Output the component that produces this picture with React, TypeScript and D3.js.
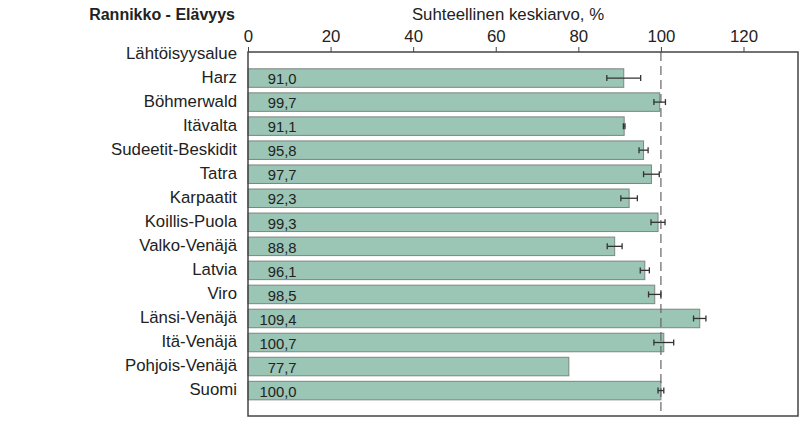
import React, { useRef, useEffect } from "react";
import * as d3 from "d3";

const regions = ["Harz", "Böhmerwald", "Itävalta", "Sudeetit-Beskidit", "Tatra", "Karpaatit", "Koillis-Puola", "Valko-Venäjä", "Latvia", "Viro", "Länsi-Venäjä", "Itä-Venäjä", "Pohjois-Venäjä", "Suomi"];
const values = [91.0, 99.7, 91.1, 95.8, 97.7, 92.3, 99.3, 88.8, 96.1, 98.5, 109.4, 100.7, 77.7, 100.0];
const errors = [4.1, 1.4, 0.2, 1.1, 1.9, 2.0, 1.7, 1.8, 1.1, 1.5, 1.5, 2.4, 0, 0.7];
const ticks = [0, 20, 40, 60, 80, 100, 120];

export default () => {
    const ref = useRef<SVGSVGElement>(null);

    useEffect(() => {
        if (!ref.current) return;
        const width = 809, height = 428;
        const margin = { top: 52, right: 11, bottom: 12, left: 248 };
        const svg = d3.select(ref.current);
        svg.selectAll("*").remove();

        const x = d3.scaleLinear().domain([0, 133.2]).range([margin.left, width - margin.right]);
        const y = d3.scaleBand<string>()
            .domain(["Lähtöisyysalue", ...regions])
            .range([42, 42 + 15 * 24.04])
            .paddingInner(0.23)
            .paddingOuter(0.115);

        const font = "Liberation Sans, Arial, sans-serif";
        const data = regions.map((r, i) => ({ r, v: values[i], e: errors[i] }));

        // bars
        svg.append("g")
            .selectAll("rect")
            .data(data)
            .join("rect")
            .attr("x", x(0))
            .attr("y", d => y(d.r)!)
            .attr("width", d => x(d.v) - x(0))
            .attr("height", y.bandwidth())
            .attr("fill", "#9bc5b5")
            .attr("stroke", "#7d8580")
            .attr("stroke-width", 1);

        // reference line at 100
        svg.append("line")
            .attr("x1", x(100)).attr("x2", x(100))
            .attr("y1", margin.top).attr("y2", height - margin.bottom)
            .attr("stroke", "#666").attr("stroke-width", 1.2)
            .attr("stroke-dasharray", "9,5");

        // error bars
        const eb = svg.append("g").attr("stroke", "#333").attr("stroke-width", 1.3);
        data.filter(d => d.e > 0).forEach(d => {
            const cy = y(d.r)! + y.bandwidth() / 2;
            eb.append("line").attr("x1", x(d.v - d.e)).attr("x2", x(d.v + d.e)).attr("y1", cy).attr("y2", cy);
            eb.append("line").attr("x1", x(d.v - d.e)).attr("x2", x(d.v - d.e)).attr("y1", cy - 3).attr("y2", cy + 3);
            eb.append("line").attr("x1", x(d.v + d.e)).attr("x2", x(d.v + d.e)).attr("y1", cy - 3).attr("y2", cy + 3);
        });

        // value labels
        svg.append("g")
            .attr("font-family", font)
            .attr("font-size", 14.8)
            .attr("fill", "#222")
            .attr("text-anchor", "end")
            .selectAll("text")
            .data(data)
            .join("text")
            .attr("x", 296.5)
            .attr("y", d => y(d.r)! + y.bandwidth() / 2)
            .attr("dy", "0.42em")
            .text(d => d3.format(".1f")(d.v).replace(".", ","));

        // frame
        svg.append("rect")
            .attr("x", margin.left).attr("y", margin.top)
            .attr("width", width - margin.right - margin.left)
            .attr("height", height - margin.bottom - margin.top)
            .attr("fill", "none").attr("stroke", "#444").attr("stroke-width", 1.5);

        // top axis
        const axis = svg.append("g")
            .attr("transform", `translate(0,${margin.top})`)
            .call(d3.axisTop(x).tickValues(ticks).tickSize(5).tickSizeOuter(0).tickPadding(5));
        axis.select(".domain").remove();
        axis.selectAll("line").attr("stroke", "#444");
        axis.selectAll("text").attr("font-family", font).attr("font-size", 16.8).attr("fill", "#222");

        // category labels
        svg.append("g")
            .attr("font-family", font)
            .attr("font-size", 16.8)
            .attr("fill", "#222")
            .attr("text-anchor", "end")
            .selectAll("text")
            .data(y.domain())
            .join("text")
            .attr("x", 237)
            .attr("y", d => y(d)! + y.bandwidth() / 2)
            .attr("dy", "0.27em")
            .text(d => d);

        svg.append("text")
            .attr("x", 235).attr("y", 20)
            .attr("text-anchor", "end")
            .attr("font-family", font).attr("font-size", 16).attr("font-weight", "bold")
            .attr("fill", "#222")
            .text("Rannikko - Elävyys");

        svg.append("text")
            .attr("x", 508).attr("y", 20)
            .attr("text-anchor", "middle")
            .attr("font-family", font).attr("font-size", 16.8)
            .attr("fill", "#222")
            .text("Suhteellinen keskiarvo, %");
    }, []);

    return (
        <svg ref={ref} width={809} height={428} style={{ display: "block", position: "absolute", left: 0, top: 0, background: "#fff" }} />
    );
};
